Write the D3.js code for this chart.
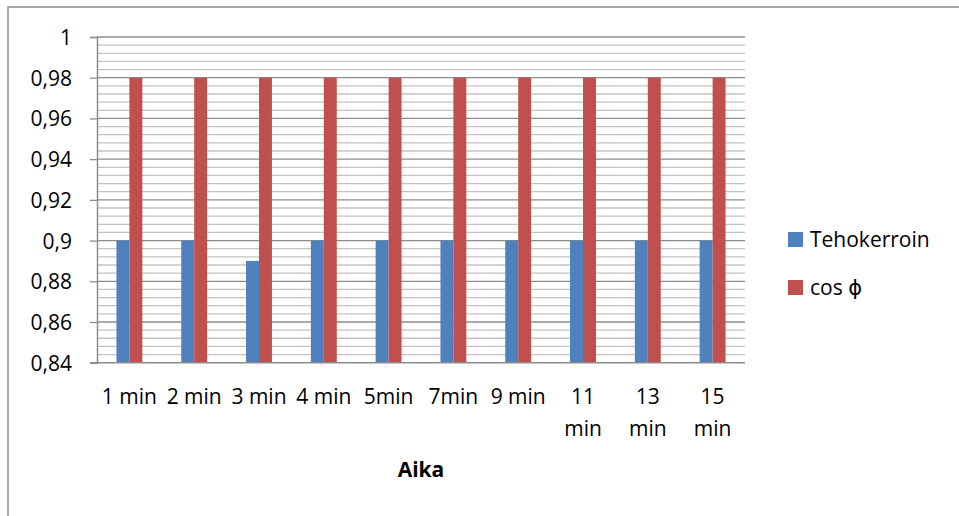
<!DOCTYPE html>
<html>
<head>
<meta charset="utf-8">
<script src="https://cdn.jsdelivr.net/npm/d3@7"></script>
<style>
  html, body { margin: 0; padding: 0; background: #fff; }
  svg { display: block; font-family: "Open Sans", "DejaVu Sans", sans-serif; }
</style>
</head>
<body>
<svg id="chart" width="959" height="516"></svg>
<script>
// Power factor readings over time
const categories = ["1 min", "2 min", "3 min", "4 min", "5min", "7min", "9 min", "11 min", "13 min", "15 min"];
const seriesNames = ["Tehokerroin", "cos \u03D5"];
const tehokerroin = [0.90, 0.90, 0.89, 0.90, 0.90, 0.90, 0.90, 0.90, 0.90, 0.90];
const cosPhi = [0.98, 0.98, 0.98, 0.98, 0.98, 0.98, 0.98, 0.98, 0.98, 0.98];
const majorTicks = [0.84, 0.86, 0.88, 0.90, 0.92, 0.94, 0.96, 0.98, 1];
const tickLabels = ["0,84", "0,86", "0,88", "0,9", "0,92", "0,94", "0,96", "0,98", "1"];
const minorStep = 0.004;
const axisTitle = "Aika";

const colors = ["#4F81BD", "#C0504D"];
const values = [tehokerroin, cosPhi];

const svg = d3.select("#chart");
const plot = { left: 97, right: 745, top: 37, bottom: 362.7 };

// outer chart frame
svg.append("rect")
  .attr("x", 8).attr("y", 7)
  .attr("width", 1000).attr("height", 600)
  .attr("fill", "none").attr("stroke", "#8c8c8c").attr("stroke-width", 1.5);

const y = d3.scaleLinear().domain([0.84, 1]).range([plot.bottom, plot.top]);
const x0 = d3.scaleBand().domain(categories).range([plot.left, plot.right]).paddingInner(0).paddingOuter(0);
const groupW = x0.bandwidth() / 2.5;
const x1 = d3.scaleBand().domain(seriesNames).range([0, groupW]);

// minor gridlines
const minorVals = d3.range(0, 41).map(i => 0.84 + i * minorStep)
  .filter(v => v > 0.8401 && v < 0.9999 && Math.abs(Math.round(v / 0.02) * 0.02 - v) > 1e-6);
svg.append("g").selectAll("line").data(minorVals).join("line")
  .attr("x1", plot.left).attr("x2", plot.right)
  .attr("y1", d => y(d)).attr("y2", d => y(d))
  .attr("stroke", "#c3c3c3").attr("stroke-width", 1.3);

// major gridlines
svg.append("g").selectAll("line").data(majorTicks.slice(1)).join("line")
  .attr("x1", plot.left).attr("x2", plot.right)
  .attr("y1", d => y(d)).attr("y2", d => y(d))
  .attr("stroke", "#8c8c8c").attr("stroke-width", 1.3);

// bars
const groups = svg.append("g").selectAll("g").data(categories).join("g")
  .attr("transform", c => `translate(${x0(c) + (x0.bandwidth() - groupW) / 2},0)`);
seriesNames.forEach((s, si) => {
  groups.append("rect")
    .attr("x", x1(s))
    .attr("width", x1.bandwidth())
    .attr("y", (c, i) => y(values[si][i]))
    .attr("height", (c, i) => y(0.84) - y(values[si][i]))
    .attr("fill", colors[si]);
});

// y axis
const yAxis = d3.axisLeft(y).tickValues(majorTicks)
  .tickFormat((d, i) => tickLabels[i]).tickSize(7).tickPadding(18);
const gy = svg.append("g").attr("transform", `translate(${plot.left},0)`).call(yAxis);
gy.select(".domain").attr("stroke", "#8c8c8c").attr("stroke-width", 1.5);
gy.selectAll(".tick line").attr("stroke", "#8c8c8c").attr("stroke-width", 1.3);
gy.selectAll(".tick text").attr("font-size", 21).attr("fill", "#000")
  .attr("font-family", "'Open Sans', sans-serif").attr("dy", "0.36em");

// x axis baseline
svg.append("line")
  .attr("x1", plot.left - 7).attr("x2", plot.right)
  .attr("y1", plot.bottom).attr("y2", plot.bottom)
  .attr("stroke", "#8c8c8c").attr("stroke-width", 1.5);

// category labels, wrapped onto two lines when wider than the band
const xl = svg.append("g").selectAll("text").data(categories).join("text")
  .attr("x", c => x0(c) + x0.bandwidth() / 2)
  .attr("y", 404)
  .attr("text-anchor", "middle")
  .attr("font-size", 21)
  .text(c => c);
xl.each(function (c) {
  const t = d3.select(this);
  if (this.getComputedTextLength() > x0.bandwidth() - 2) {
    const words = c.split(" ");
    t.text(null);
    words.forEach((w, i) => {
      t.append("tspan").attr("x", x0(c) + x0.bandwidth() / 2)
        .attr("dy", i === 0 ? 0 : 32).text(w);
    });
  }
});

// axis title
svg.append("text")
  .attr("x", (plot.left + plot.right) / 2).attr("y", 477)
  .attr("text-anchor", "middle").attr("font-size", 21).attr("font-weight", "bold")
  .text(axisTitle);

// legend
const legend = svg.append("g").selectAll("g").data(seriesNames).join("g")
  .attr("transform", (d, i) => `translate(788,${232 + i * 48})`);
legend.append("rect").attr("width", 15).attr("height", 15).attr("fill", (d, i) => colors[i]);
legend.append("text").attr("x", 22).attr("y", 15).attr("font-size", 21).text(d => d);
</script>
</body>
</html>
